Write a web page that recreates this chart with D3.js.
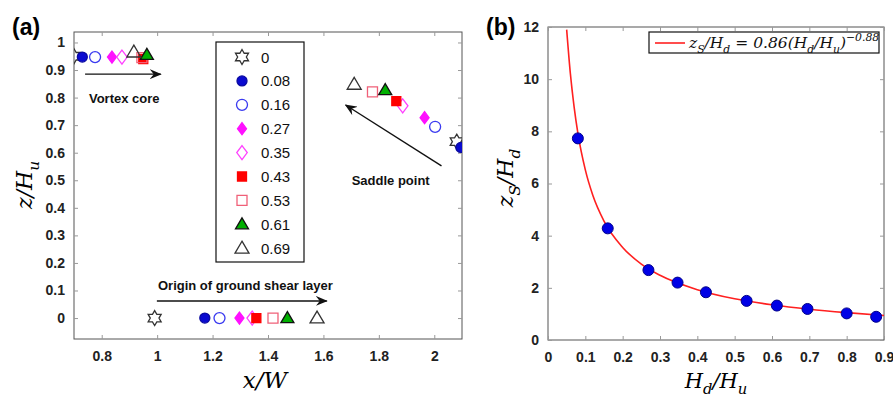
<!DOCTYPE html>
<html>
<head>
<meta charset="utf-8">
<script src="https://cdn.jsdelivr.net/npm/d3@7"></script>
<style>
  body { margin: 0; background: #fff; }
  text { font-family: Arial, "Liberation Sans", sans-serif; }
  .tick-label { font-size: 14px; font-weight: bold; fill: #222; }
  .math { font-family: "DejaVu Serif", "Liberation Serif", serif; font-style: italic; }
</style>
</head>
<body>
<div id="chart"></div>
<script>
// ---- panel (a) data ----
const ratios = ["0", "0.08", "0.16", "0.27", "0.35", "0.43", "0.53", "0.61", "0.69"];
// vortex core location
const coreX = [0.70, 0.73, 0.776, 0.837, 0.873, 0.95, 0.945, 0.963, 0.916];
const coreZ = [0.95, 0.947, 0.947, 0.947, 0.947, 0.94, 0.945, 0.955, 0.965];
// saddle point location
const saddleX = [2.081, 2.096, 2.003, 1.965, 1.886, 1.863, 1.777, 1.823, 1.711];
const saddleZ = [0.640, 0.619, 0.694, 0.727, 0.770, 0.787, 0.821, 0.827, 0.848];
// origin of ground shear layer
const groundX = [0.991, 1.172, 1.225, 1.297, 1.343, 1.358, 1.418, 1.470, 1.577];
const groundZ = [0, 0, 0, 0, 0, 0, 0, 0, 0];
const xTicksA = [0.8, 1, 1.2, 1.4, 1.6, 1.8, 2];
const yTicksA = [0, 0.1, 0.2, 0.3, 0.4, 0.5, 0.6, 0.7, 0.8, 0.9, 1];

// ---- panel (b) data ----
const hdHu = [0.08, 0.16, 0.269, 0.347, 0.423, 0.532, 0.613, 0.695, 0.80, 0.879];
const zsHd = [7.73, 4.28, 2.68, 2.20, 1.83, 1.50, 1.32, 1.19, 1.02, 0.89];
// fitted curve
const fitX = [0.05, 0.06, 0.07, 0.08, 0.10, 0.12, 0.15, 0.20, 0.25, 0.30, 0.40, 0.50, 0.60, 0.70, 0.80, 0.90];
const fitY = [11.9, 10.2, 8.93, 7.93, 6.52, 5.55, 4.56, 3.55, 2.91, 2.48, 1.93, 1.58, 1.35, 1.18, 1.05, 0.94];
const xTicksB = [0, 0.1, 0.2, 0.3, 0.4, 0.5, 0.6, 0.7, 0.8, 0.9];
const yTicksB = [0, 2, 4, 6, 8, 10, 12];

const svg = d3.select("#chart").append("svg")
  .attr("width", 893)
  .attr("height", 397);

// arrowhead
svg.append("defs").append("marker")
  .attr("id", "head")
  .attr("viewBox", "0 0 12 10")
  .attr("refX", 11).attr("refY", 5)
  .attr("markerWidth", 12).attr("markerHeight", 10)
  .attr("markerUnits", "userSpaceOnUse")
  .attr("orient", "auto")
  .append("path")
  .attr("d", "M0,0 L12,5 L0,10 L4,5 Z")
  .attr("fill", "#111");

// custom marker shapes, size = half width in px
const shapes = {
  circle: { draw(ctx, r) { ctx.moveTo(r, 0); ctx.arc(0, 0, r, 0, 2 * Math.PI); } },
  diamond: { draw(ctx, r) { ctx.moveTo(0, -r); ctx.lineTo(r * 0.75, 0); ctx.lineTo(0, r); ctx.lineTo(-r * 0.75, 0); ctx.closePath(); } },
  square: { draw(ctx, r) { ctx.rect(-r, -r, 2 * r, 2 * r); } },
  triangle: { draw(ctx, r) { ctx.moveTo(0, -r); ctx.lineTo(r, r * 0.7); ctx.lineTo(-r, r * 0.7); ctx.closePath(); } },
  hexagram: { draw(ctx, r) {
    for (let k = 0; k < 12; k++) {
      const a = -Math.PI / 2 + k * Math.PI / 6;
      const rr = k % 2 === 0 ? r : r * 0.58;
      if (k === 0) ctx.moveTo(rr * Math.cos(a), rr * Math.sin(a));
      else ctx.lineTo(rr * Math.cos(a), rr * Math.sin(a));
    }
    ctx.closePath();
  } }
};
const markerStyle = [
  { shape: "hexagram", r: 7.5, fill: "none", stroke: "#333" },
  { shape: "circle", r: 5, fill: "#0a0ad0", stroke: "#0a0aa0" },
  { shape: "circle", r: 5.5, fill: "none", stroke: "#3a3af0" },
  { shape: "diamond", r: 6, fill: "#ff10ff", stroke: "#ff10ff" },
  { shape: "diamond", r: 7, fill: "none", stroke: "#ff40ff" },
  { shape: "square", r: 4.5, fill: "#ff0000", stroke: "#ff0000" },
  { shape: "square", r: 5, fill: "none", stroke: "#f06078" },
  { shape: "triangle", r: 6.5, fill: "#00b000", stroke: "#111" },
  { shape: "triangle", r: 7, fill: "none", stroke: "#333" }
];
function drawMarker(g, i, x, y) {
  const s = markerStyle[i];
  g.append("path")
    .attr("transform", `translate(${x},${y})`)
    .attr("d", d3.symbol().type(shapes[s.shape]).size(s.r)())
    .attr("fill", s.fill)
    .attr("stroke", s.stroke)
    .attr("stroke-width", 1.3);
}

// text with sub/superscripts
function mathText(sel, parts, size) {
  let shift = 0;
  parts.forEach(([t, kind]) => {
    const target = kind === "sub" ? size * 0.3 : kind === "sup" ? -size * 0.45 : 0;
    sel.append("tspan")
      .attr("dy", target - shift)
      .attr("font-size", kind ? size * 0.7 : size)
      .text(t);
    shift = target;
  });
}

// frame with inward ticks on four sides
function frame(g, x, y, xt, yt, fmtX, fmtY) {
  const [x0, x1] = x.range(), [y0, y1] = y.range();
  g.append("rect")
    .attr("x", x0).attr("y", y1)
    .attr("width", x1 - x0).attr("height", y0 - y1)
    .attr("fill", "none").attr("stroke", "#555").attr("stroke-width", 1);
  const tl = 4;
  g.append("g").attr("transform", `translate(0,${y0})`)
    .call(d3.axisBottom(x).tickValues(xt).tickSize(-tl).tickPadding(9).tickFormat(fmtX))
    .call(a => a.select(".domain").remove())
    .call(a => a.selectAll("line").attr("stroke", "#999"))
    .call(a => a.selectAll("text").attr("class", "tick-label").attr("dy", "0.9em"));
  g.append("g").attr("transform", `translate(0,${y1})`)
    .call(d3.axisTop(x).tickValues(xt).tickSize(-tl).tickFormat(""))
    .call(a => a.select(".domain").remove())
    .call(a => a.selectAll("line").attr("stroke", "#999"));
  g.append("g").attr("transform", `translate(${x0},0)`)
    .call(d3.axisLeft(y).tickValues(yt).tickSize(-tl).tickPadding(9).tickFormat(fmtY))
    .call(a => a.select(".domain").remove())
    .call(a => a.selectAll("line").attr("stroke", "#999"))
    .call(a => a.selectAll("text").attr("class", "tick-label"));
  g.append("g").attr("transform", `translate(${x1},0)`)
    .call(d3.axisRight(y).tickValues(yt).tickSize(-tl).tickFormat(""))
    .call(a => a.select(".domain").remove())
    .call(a => a.selectAll("line").attr("stroke", "#999"));
}

// ================= panel (a) =================
const xA = d3.scaleLinear().domain([0.7, 2.1]).range([74, 462]);
const yA = d3.scaleLinear().domain([-0.076, 1.038]).range([339, 32]);
const gA = svg.append("g");
frame(gA, xA, yA, xTicksA, yTicksA, d3.format("~g"), d3.format("~g"));

// markers, clipped to the axes box
gA.append("clipPath").attr("id", "clipA").append("rect")
  .attr("x", 74).attr("y", 32).attr("width", 388).attr("height", 307);
const pts = gA.append("g").attr("clip-path", "url(#clipA)");
[[coreX, coreZ], [saddleX, saddleZ], [groundX, groundZ]].forEach(([xs, zs]) => {
  ratios.forEach((r, i) => drawMarker(pts, i, xA(xs[i]), yA(zs[i])));
});

// annotations
function arrow(g, x, y, xa, ya, xb, yb) {
  g.append("line")
    .attr("x1", x(xa)).attr("y1", y(ya))
    .attr("x2", x(xb)).attr("y2", y(yb))
    .attr("stroke", "#111").attr("stroke-width", 1.4)
    .attr("marker-end", "url(#head)");
}
arrow(gA, xA, yA, 0.74, 0.885, 1.013, 0.885);
arrow(gA, xA, yA, 2.026, 0.552, 1.68, 0.773);
arrow(gA, xA, yA, 0.999, 0.062, 1.612, 0.062);
gA.append("text").attr("x", xA(0.754)).attr("y", yA(0.78))
  .attr("font-size", 13).attr("font-weight", "bold").attr("fill", "#111").text("Vortex core");
gA.append("text").attr("x", xA(1.702)).attr("y", yA(0.483))
  .attr("font-size", 13).attr("font-weight", "bold").attr("fill", "#111").text("Saddle point");
gA.append("text").attr("x", xA(1.003)).attr("y", yA(0.102))
  .attr("font-size", 13).attr("font-weight", "bold").attr("fill", "#111").text("Origin of ground shear layer");

// legend
const legA = gA.append("g");
legA.append("rect").attr("x", 216).attr("y", 42).attr("width", 88).attr("height", 220)
  .attr("fill", "#fff").attr("stroke", "#111").attr("stroke-width", 1.2);
ratios.forEach((r, i) => {
  const yy = 57 + i * 23.9;
  drawMarker(legA, i, 242, yy);
  legA.append("text").attr("x", 261).attr("y", yy + 5.5)
    .attr("font-family", "DejaVu Serif, serif").attr("font-size", 15).attr("fill", "#111")
    .text(r);
});

// titles
svg.append("text").attr("x", 12).attr("y", 35)
  .attr("font-size", 23).attr("font-weight", "bold").text("(a)");
mathText(svg.append("text").attr("class", "math").attr("x", 265).attr("y", 388)
  .attr("text-anchor", "middle"), [["x/W"]], 23);
mathText(svg.append("text").attr("class", "math")
  .attr("transform", "translate(32,185) rotate(-90)").attr("text-anchor", "middle"),
  [["z/H"], ["u", "sub"]], 22);

// ================= panel (b) =================
const xB = d3.scaleLinear().domain([0, 0.9]).range([548, 884]);
const yB = d3.scaleLinear().domain([0, 12]).range([340, 27]);
const gB = svg.append("g");
frame(gB, xB, yB, xTicksB, yTicksB, d3.format("~g"), d3.format("~g"));

const fitData = fitX.map((x, i) => [x, fitY[i]]);
gB.append("path")
  .datum(fitData)
  .attr("fill", "none")
  .attr("stroke", "#ff2020")
  .attr("stroke-width", 1.6)
  .attr("d", d3.line().x(d => xB(d[0])).y(d => yB(d[1])).curve(d3.curveMonotoneX));

gB.selectAll("circle.pt")
  .data(hdHu.map((x, i) => [x, zsHd[i]]))
  .enter()
  .append("circle")
  .attr("class", "pt")
  .attr("cx", d => xB(d[0]))
  .attr("cy", d => yB(d[1]))
  .attr("r", 5.5)
  .attr("fill", "#0000e6")
  .attr("stroke", "#00008a")
  .attr("stroke-width", 1);

// legend (b)
gB.append("rect").attr("x", 649).attr("y", 32).attr("width", 230).attr("height", 21)
  .attr("fill", "#fff").attr("stroke", "#111").attr("stroke-width", 1.2);
gB.append("line").attr("x1", 655).attr("x2", 685).attr("y1", 43).attr("y2", 43)
  .attr("stroke", "#ff2020").attr("stroke-width", 1.6);
mathText(gB.append("text").attr("class", "math").attr("x", 689).attr("y", 48).attr("fill", "#111"),
  [["z"], ["S", "sub"], ["/H"], ["d", "sub"], [" = 0.86(H"], ["d", "sub"], ["/H"], ["u", "sub"], [")"], ["\u22120.88", "sup"]], 15.5);

svg.append("text").attr("x", 486).attr("y", 35)
  .attr("font-size", 23).attr("font-weight", "bold").text("(b)");
mathText(svg.append("text").attr("class", "math").attr("x", 716).attr("y", 388)
  .attr("text-anchor", "middle"), [["H"], ["d", "sub"], ["/H"], ["u", "sub"]], 21);
mathText(svg.append("text").attr("class", "math")
  .attr("transform", "translate(513,178) rotate(-90)").attr("text-anchor", "middle"),
  [["z"], ["S", "sub"], ["/H"], ["d", "sub"]], 22);
</script>
</body>
</html>
